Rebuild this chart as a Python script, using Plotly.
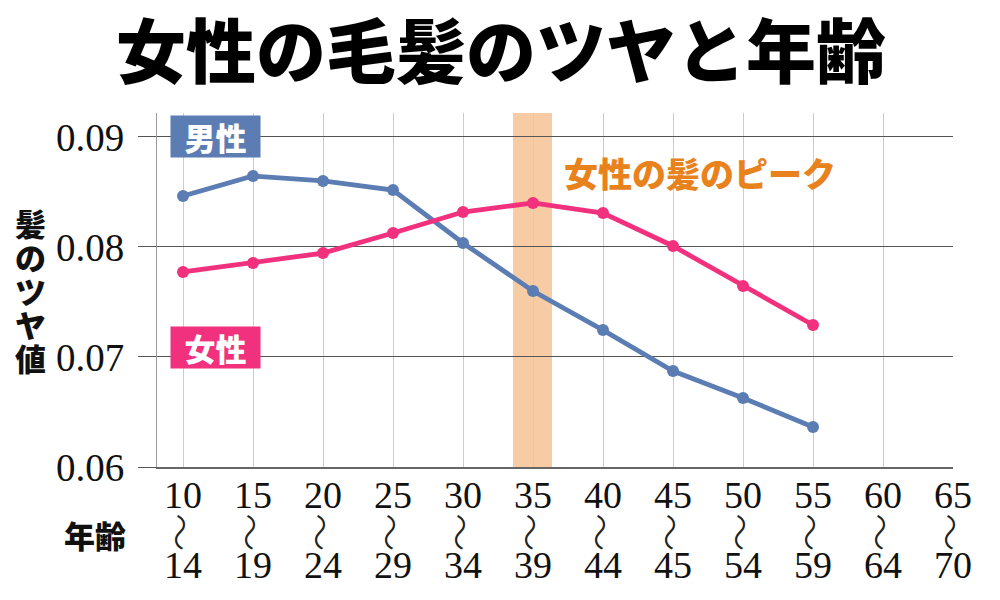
import plotly.graph_objects as go

age_start = ["10", "15", "20", "25", "30", "35", "40", "45", "50", "55", "60", "65"]
age_end = ["14", "19", "24", "29", "34", "39", "44", "45", "54", "59", "64", "70"]
male = [0.08464, 0.08645, 0.0860, 0.08518, 0.08036, 0.0760, 0.07245, 0.06873, 0.06627, 0.06364]
female = [0.07773, 0.07855, 0.07945, 0.08127, 0.08318, 0.0840, 0.08309, 0.08009, 0.07645, 0.07291]
y_ticks = [0.06, 0.07, 0.08, 0.09]
y_tick_text = ["0.06", "0.07", "0.08", "0.09"]
peak_index = 5

BLUE = "#5B7DB3"
PINK = "#F2317E"
ORANGE = "#E8821C"
SERIF = "Liberation Serif, Times New Roman, serif"
CJK = "Noto Sans CJK JP, sans-serif"

x_idx = list(range(len(age_start)))

fig = go.Figure()
fig.add_trace(go.Scatter(x=x_idx[:len(male)], y=male, mode="lines+markers", name="男性",
                         line=dict(color=BLUE, width=4.8), marker=dict(color=BLUE, size=12)))
fig.add_trace(go.Scatter(x=x_idx[:len(female)], y=female, mode="lines+markers", name="女性",
                         line=dict(color=PINK, width=4.8), marker=dict(color=PINK, size=12)))

# peak band
fig.add_shape(type="rect", xref="x", yref="paper", x0=peak_index - 0.286, x1=peak_index + 0.271,
              y0=0, y1=1, fillcolor="#F7CBA3", line=dict(width=0), layer="below")

annotations = []
# x tick labels (three rows)
for i, (s, e) in enumerate(zip(age_start, age_end)):
    annotations.append(dict(x=i, y=-0.080, xref="x", yref="paper", text=s, showarrow=False,
                            font=dict(family=SERIF, size=38, color="#111"), yanchor="middle"))
    annotations.append(dict(x=i, y=-0.184, xref="x", yref="paper", text="〜", showarrow=False,
                            textangle=90,
                            font=dict(family=CJK, size=38, color="#222", weight=300), yanchor="middle"))
    annotations.append(dict(x=i, y=-0.278, xref="x", yref="paper", text=e, showarrow=False,
                            font=dict(family=SERIF, size=38, color="#111"), yanchor="middle"))

annotations.append(dict(x=-0.078, y=-0.190, xref="paper", yref="paper", text="年齢", showarrow=False,
                        font=dict(family=CJK, size=31, color="#111", weight=900), yanchor="middle", xanchor="center"))

ylabel_chars = ["髪", "の", "ツ", "ヤ", "値"]
for k, ch in enumerate(ylabel_chars):
    annotations.append(dict(x=-0.1595, y=0.692 - k * 0.096, xref="paper", yref="paper", text=ch,
                            showarrow=False, font=dict(family=CJK, size=31, color="#111", weight=900),
                            yanchor="middle", xanchor="center"))

annotations.append(dict(x=0.464, y=0.0900, xref="x", yref="y", text="男性", showarrow=False,
                        font=dict(family=CJK, size=31, color="white", weight=900), bgcolor=BLUE,
                        width=85, height=37, borderpad=2))
annotations.append(dict(x=0.464, y=0.07086, xref="x", yref="y", text="女性", showarrow=False,
                        font=dict(family=CJK, size=31, color="white", weight=900), bgcolor=PINK,
                        width=85, height=37, borderpad=2))
annotations.append(dict(x=7.386, y=0.08673, xref="x", yref="y", text="女性の髪のピーク", showarrow=False,
                        font=dict(family=CJK, size=34, color=ORANGE, weight=900)))

fig.update_layout(
    width=1000, height=600,
    margin=dict(l=149, r=55, t=105, b=141),
    paper_bgcolor="white", plot_bgcolor="white",
    showlegend=False,
    title=dict(text="女性の毛髪のツヤと年齢", x=0.493, xref="container", xanchor="center",
               y=0.925, yref="container", yanchor="middle",
               font=dict(family=CJK, size=70, color="#000", weight=900)),
    annotations=annotations,
    xaxis=dict(range=[-0.3714, 11], tickvals=x_idx, showticklabels=False, ticks="",
               showgrid=True, gridcolor="#CCCCCC", gridwidth=1, zeroline=False,
               showline=True, linecolor="#666666", linewidth=1.5),
    yaxis=dict(range=[0.06, 0.09218], tickvals=y_ticks, ticktext=y_tick_text,
               ticks="outside", ticklen=18, tickcolor="#555555", tickwidth=1,
               ticklabelstandoff=6,
               tickfont=dict(family=SERIF, size=39, color="#111"),
               showgrid=True, gridcolor="#555555", gridwidth=1, zeroline=False,
               showline=True, linecolor="#999999", linewidth=1),
)

fig.write_html("out.html")
